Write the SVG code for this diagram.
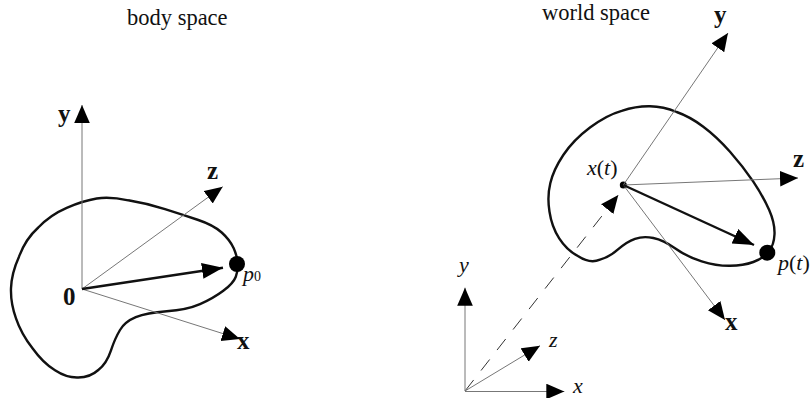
<svg xmlns="http://www.w3.org/2000/svg" width="810" height="398" viewBox="0 0 810 398">
<style>
text{font-family:"Liberation Serif","Times New Roman",serif;fill:#111}
.t{font-size:22.5px}.b{font-size:25px;font-weight:bold}.i{font-size:22px;font-style:italic}
.ax{stroke:#777;stroke-width:1;fill:none;marker-end:url(#ah)}
.hv{stroke:#111;stroke-width:2.4;fill:none;marker-end:url(#hh)}
.ds{stroke:#333;stroke-width:1;fill:none;stroke-dasharray:14 12;marker-end:url(#ah)}
.blob{fill:none;stroke:#111;stroke-width:2.4}
</style>
<defs>
<marker id="ah" markerUnits="userSpaceOnUse" markerWidth="20" markerHeight="17" refX="18" refY="8" orient="auto"><path d="M0 0.2L18 8L0 15.8Z" fill="#000"/></marker>
<marker id="hh" markerUnits="userSpaceOnUse" markerWidth="23" markerHeight="18" refX="21" refY="8.5" orient="auto"><path d="M0 0.5L21 8.5L0 16.5Z" fill="#000"/></marker>
</defs>
<rect width="810" height="398" fill="#fff"/>
<g id="body-blob"><path class="blob" d="M237.8 263.3Q237.3 256.7 233.7 248.3Q230 240 221.7 232.5Q213.3 225 198.3 220Q183.3 215 165 209.2Q146.7 203.3 128.3 200.3Q110 196.5 96.7 198.5Q83.3 200.7 66.7 207.8Q50 215 38.3 227.5Q25.5 239 19 256.7Q11.5 273.3 11 288.3Q10.5 303.3 16 318.3Q21 333.3 32.5 348.3Q43.3 363.3 55 370.3Q66.7 378 78.3 377.5Q90 377.5 98.3 370Q106.7 363.3 110.8 350.8Q115 338.3 120 330Q125 321.7 135.8 317.2Q146.7 312.7 166.7 311.3Q186.7 310 200 304.2Q213.3 298.3 223.3 290.8Q233.3 283.3 235.8 276.7Q238.3 270 237.8 263.3Z"/><circle cx="237" cy="264" r="8" fill="#000"/></g>
<g id="world-blob"><path class="blob" d="M774.5 234.2Q775 223.3 769.2 210Q763.3 196.7 753.3 181.7Q743.3 166.7 730 151.7Q716.7 136.7 703.3 126.7Q690 116.7 676.7 112Q663.3 106.5 650 106.3Q636.7 106 621.7 110.8Q606.7 115 590 127.5Q573.3 140 563.3 155Q553.3 170 550.3 183.3Q547 196.7 549.5 211.7Q551.7 226.7 559.2 238.3Q566.7 250 578.3 256.3Q590 264 600 259.7Q610 256.7 618.3 249.2Q626.7 241.7 635 238.8Q643.3 236 653.3 238Q663.3 240 675 248.3Q686.7 256.7 701.7 261.3Q716.7 266 730 265.8Q743.3 265.7 753.3 262Q763.3 258.3 768.7 251.7Q774 245 774.5 234.2Z"/><circle cx="767.3" cy="252.7" r="8" fill="#000"/><circle cx="623.3" cy="185" r="3.5" fill="#000"/></g>
<g id="connectors">
<path class="ax" d="M82 289V105"/><path class="ax" d="M82 289L222.7 186.7"/><path class="ax" d="M82 289L240 339"/><path class="hv" d="M82 289L223 267.7"/>
<path class="ax" d="M623.3 185L728 33"/><path class="ax" d="M623.3 185L798 178"/><path class="ax" d="M623.3 185L725 320"/><path class="hv" d="M623.3 185L754 245"/>
<path class="ds" d="M465 391L618.3 195"/><path class="ax" d="M465 391V287.7"/><path class="ax" d="M465 391L540 345.7"/><path class="ax" d="M465 391.5H564.3"/>
</g>
<g id="labels">
<text class="t" x="127" y="25">body space</text><text class="t" x="542" y="20">world space</text>
<text class="b" x="58" y="122">y</text><text class="b" x="207" y="179">z</text><text class="b" x="63" y="305">0</text><text class="b" x="237" y="349">x</text>
<text class="i" x="243" y="281" font-size="20">p<tspan font-size="14" font-style="normal">0</tspan></text>
<text class="b" x="714" y="23">y</text><text class="b" x="793" y="167">z</text><text class="b" x="725" y="330">x</text>
<text class="i" x="587" y="175">x<tspan font-style="normal">(</tspan>t<tspan font-style="normal">)</tspan></text>
<text class="i" x="778" y="270">p<tspan font-style="normal">(</tspan>t<tspan font-style="normal">)</tspan></text>
<text class="i" x="459" y="272">y</text><text class="i" x="549" y="347">z</text><text class="i" x="573" y="393">x</text>
</g>
</svg>
